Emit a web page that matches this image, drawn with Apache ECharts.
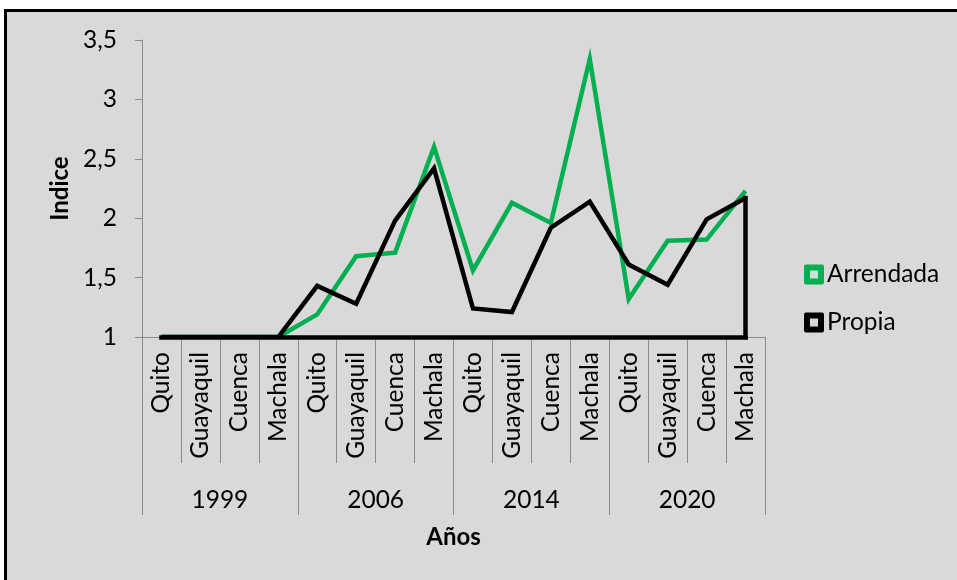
<!DOCTYPE html>
<html>
<head>
<meta charset="utf-8">
<script src="https://cdn.jsdelivr.net/npm/echarts@6/dist/echarts.min.js"></script>
<style>
  html, body { margin: 0; padding: 0; background: #fff; overflow: hidden; }
  #frame { position: absolute; left: 4px; top: 9px; width: 1000px; height: 1000px;
           border: 3px solid #000; background: #d9d9d9; }
  #chart { position: absolute; left: 0; top: 0; width: 957px; height: 580px; }
</style>
</head>
<body>
<div id="frame"></div>
<div id="chart"></div>
<script>
// Ciudades por año (eje de dos niveles)
const cities = ['Quito', 'Guayaquil', 'Cuenca', 'Machala',
                'Quito', 'Guayaquil', 'Cuenca', 'Machala',
                'Quito', 'Guayaquil', 'Cuenca', 'Machala',
                'Quito', 'Guayaquil', 'Cuenca', 'Machala'];
const years = ['1999', '2006', '2014', '2020'];

// Índice de vivienda arrendada y propia
const arrendada = [1, 1, 1, 1, 1.19, 1.68, 1.71, 2.60, 1.56, 2.13, 1.96, 3.34, 1.32, 1.81, 1.82, 2.23];
const propia    = [1, 1, 1, 1, 1.43, 1.28, 1.98, 2.42, 1.24, 1.21, 1.92, 2.14, 1.61, 1.44, 1.99, 2.17];

const yTicks = { min: 1, max: 3.5, step: 0.5 };

const FONT = 'Lato, "Open Sans", sans-serif';
const FS = 24.5;
const GRAY = '#8c8c8c';
const last = propia.length - 1;

const chart = echarts.init(document.getElementById('chart'), null, { renderer: 'canvas' });
chart.setOption({
  backgroundColor: 'transparent',
  animation: false,
  textStyle: { fontFamily: FONT, color: '#000' },
  grid: { left: 142, right: 192, top: 40, bottom: 243, containLabel: false },
  legend: {
    orient: 'vertical',
    left: 804,
    top: 262,
    padding: 0,
    itemWidth: 20,
    itemHeight: 20,
    itemGap: 23,
    icon: 'path://M1,0H9A1,1,0,0,1,10,1V9A1,1,0,0,1,9,10H1A1,1,0,0,1,0,9V1A1,1,0,0,1,1,0Z M3,3V7H7V3Z',
    textStyle: { fontFamily: FONT, fontSize: FS, lineHeight: 20, color: '#000', padding: [0, 0, 0, -2] },
    data: ['Arrendada', 'Propia']
  },
  xAxis: [
    {
      type: 'category',
      data: cities,
      boundaryGap: true,
      axisLine: { show: true, lineStyle: { color: GRAY, width: 1 } },
      axisTick: { show: true, interval: 0, length: 126, lineStyle: { color: GRAY } },
      axisLabel: { interval: 0, rotate: 90, margin: 15, fontSize: FS, color: '#000', fontFamily: FONT }
    },
    {
      type: 'category',
      data: years,
      position: 'bottom',
      boundaryGap: true,
      axisLine: { show: false },
      axisTick: { show: true, interval: 0, length: 178, lineStyle: { color: GRAY } },
      axisLabel: { interval: 0, margin: 163, verticalAlign: 'middle', fontSize: FS, color: '#000', fontFamily: FONT },
      name: 'Años',
      nameLocation: 'middle',
      nameGap: 188,
      nameTextStyle: { fontSize: 24, fontWeight: 'bold', color: '#000', fontFamily: FONT }
    }
  ],
  yAxis: {
    type: 'value',
    min: yTicks.min,
    max: yTicks.max,
    interval: yTicks.step,
    splitLine: { show: false },
    axisLine: { show: true, lineStyle: { color: GRAY } },
    axisTick: { show: true, length: 7, lineStyle: { color: GRAY } },
    axisLabel: {
      margin: 25, fontSize: FS, color: '#000', fontFamily: FONT,
      formatter: v => String(v).replace('.', ',')
    },
    name: 'Indice',
    nameLocation: 'middle',
    nameRotate: 90,
    nameGap: 70,
    nameTextStyle: { fontSize: 24, fontWeight: 'bold', color: '#000', fontFamily: FONT }
  },
  series: [
    {
      name: 'Arrendada',
      type: 'line',
      xAxisIndex: 0,
      data: arrendada,
      symbol: 'none',
      color: '#00b050',
      lineStyle: { color: '#00b050', width: 4.5, join: 'miter' },
      z: 2
    },
    {
      name: 'Propia',
      type: 'line',
      xAxisIndex: 0,
      data: propia,
      symbol: 'none',
      color: '#000',
      lineStyle: { color: '#000', width: 4.5, join: 'miter' },
      z: 3,
      markLine: {
        silent: true,
        symbol: ['none', 'none'],
        label: { show: false },
        lineStyle: { color: '#000', width: 4.5, type: 'solid', cap: 'square' },
        data: [
          [{ coord: [last, propia[last]] }, { coord: [last, yTicks.min] }],
          [{ coord: [last, yTicks.min] }, { coord: [0, yTicks.min] }]
        ]
      }
    }
  ]
});
</script>
</body>
</html>
